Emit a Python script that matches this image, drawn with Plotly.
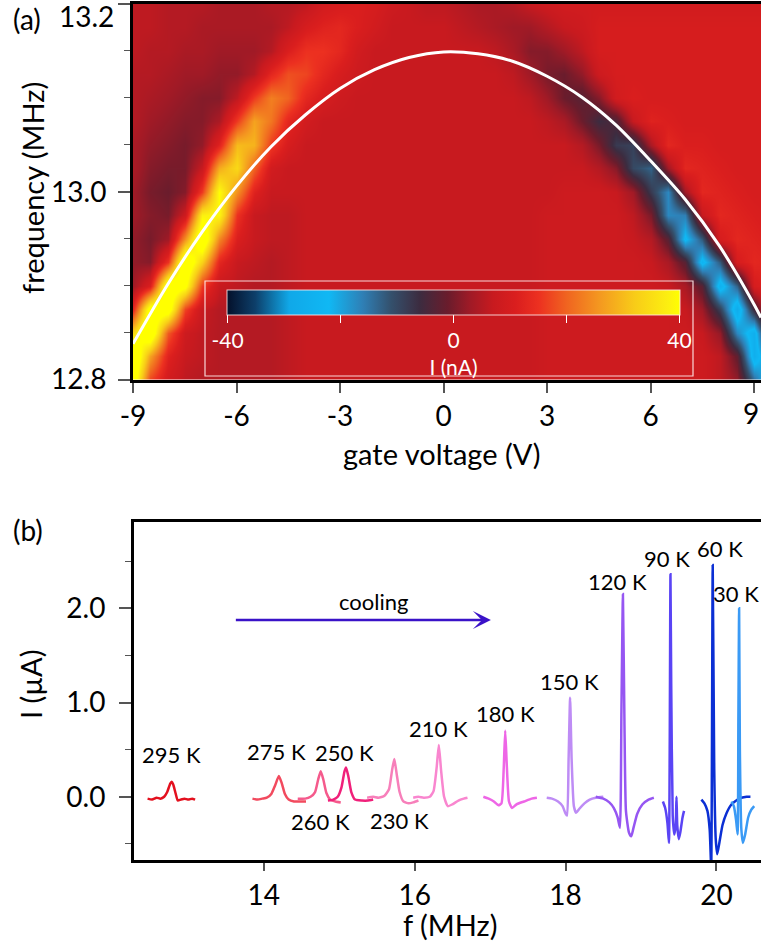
import plotly.graph_objects as go

W, H = 761, 952
FONT = "Lato"

# ---------------- panel (a): current map vs gate voltage and frequency ----------------
gate_v = [-9.0, -8.5, -8.0, -7.5, -7.0, -6.5, -6.0, -5.5, -5.0, -4.5,
          -4.0, -3.5, -3.0, -2.5, -2.0, -1.5, -1.0, -0.5, 0.0, 0.5,
          1.0, 1.5, 2.0, 2.5, 3.0, 3.5, 4.0, 4.5, 5.0, 5.5,
          6.0, 6.5, 7.0, 7.5, 8.0, 8.5, 9.0, 9.5]
freq_rows = [12.800, 12.825, 12.850, 12.875, 12.900, 12.925, 12.950, 12.975, 13.000,
             13.025, 13.050, 13.075, 13.100, 13.125, 13.150, 13.175, 13.200]

# measured current I (nA), one row per frequency, one column per gate voltage
# (values beyond +/-40 nA saturate the colour scale)
current_nA = [
    [46, 17, 9, 6, 5, 5, 5, 5, 5, 6,      7, 7, 7, 7, 7, 7, 7, 7, 7, 7,
     7, 7, 7, 7, 8, 8, 8, 8, 8, 8,        8, 8, 8, 8, 6, 2, -14, -26],
    [50, 27, 12, 7, 6, 5, 5, 5, 5, 6,     7, 7, 7, 7, 7, 7, 7, 7, 7, 7,
     7, 7, 7, 7, 8, 8, 8, 8, 8, 8,        8, 8, 8, 8, 6, -2, -26, -14],
    [34, 48, 19, 8, 6, 5, 5, 5, 5, 6,     7, 7, 7, 7, 7, 7, 7, 7, 7, 7,
     7, 7, 7, 7, 8, 8, 8, 8, 8, 8,        8, 8, 8, 7, 2, -17, -26, 4],
    [13, 44, 45, 17, 7, 5, 5, 5, 5, 6,    7, 7, 7, 7, 7, 7, 7, 7, 7, 7,
     7, 7, 7, 7, 8, 8, 8, 8, 8, 8,        8, 8, 7, 3, -9, -27, -5, 11],
    [3, 11, 46, 42, 16, 7, 6, 5, 5, 6,    7, 7, 7, 7, 7, 7, 7, 7, 7, 7,
     7, 7, 7, 7, 8, 8, 8, 8, 8, 8,        8, 7, 4, -3, -25, -13, 10, 13],
    [2, 1, 15, 48, 33, 13, 7, 6, 5, 6,    7, 7, 7, 7, 7, 7, 7, 7, 7, 7,
     7, 7, 7, 7, 8, 8, 8, 8, 8, 8,        7, 4, -3, -24, -12, 10, 13, 12],
    [2, 0, 3, 25, 48, 24, 11, 7, 6, 6,    7, 7, 7, 7, 7, 7, 7, 7, 7, 7,
     7, 7, 7, 7, 8, 8, 8, 8, 8, 7,        5, -3, -23, -12, 10, 13, 12, 11],
    [3, 1, 0, 8, 38, 39, 15, 7, 6, 6,     7, 7, 7, 7, 7, 7, 7, 7, 7, 7,
     7, 7, 7, 7, 8, 8, 8, 8, 8, 6,        0, -17, -16, 7, 13, 12, 11, 10],
    [3, 0, -1, 1, 16, 40, 25, 12, 7, 7,   7, 7, 7, 7, 7, 7, 7, 7, 7, 7,
     7, 7, 7, 7, 7, 8, 8, 8, 7, 3,        -8, -17, 3, 13, 12, 11, 10, 10],
    [4, 1, 0, 0, 7, 28, 34, 20, 9, 7,     7, 7, 7, 7, 7, 7, 7, 7, 7, 7,
     7, 7, 7, 7, 7, 7, 7, 5, 1, -10,      -13, 3, 13, 12, 11, 10, 10, 10],
    [4, 2, 1, 0, 2, 12, 30, 29, 16, 10,   7, 7, 7, 7, 7, 7, 7, 7, 7, 7,
     7, 7, 7, 7, 7, 7, 5, 0, -8, -9,      4, 13, 11, 11, 10, 10, 10, 10],
    [5, 3, 2, 1, 1, 4, 16, 27, 22, 13,    9, 7, 7, 7, 7, 7, 7, 7, 7, 7,
     7, 7, 7, 7, 6, 4, -1, -6, -4, 7,     12, 11, 10, 10, 10, 10, 10, 10],
    [5, 4, 3, 2, 1, 1, 6, 16, 23, 20,     13, 10, 8, 7, 7, 7, 7, 7, 7, 7,
     7, 7, 7, 6, 3, -1, -3, 1, 9, 11,     10, 10, 10, 10, 10, 10, 10, 10],
    [5, 5, 4, 3, 3, 2, 2, 5, 13, 18,      17, 13, 10, 8, 7, 7, 7, 7, 7, 7,
     7, 7, 6, 3, 0, -1, 2, 8, 10, 10,     10, 10, 10, 10, 10, 10, 10, 10],
    [6, 5, 5, 4, 4, 3, 3, 3, 5, 11,       15, 15, 13, 9, 7, 7, 7, 7, 7, 7,
     7, 6, 4, 1, 1, 3, 6, 10, 10, 10,     10, 10, 10, 10, 10, 10, 10, 10],
    [6, 6, 5, 5, 4, 4, 4, 4, 4, 6,        10, 12, 13, 11, 9, 7, 7, 7, 7, 6,
     5, 4, 3, 3, 5, 7, 8, 10, 10, 10,     10, 10, 10, 10, 10, 10, 10, 10],
    [6, 6, 5, 5, 5, 4, 4, 4, 5, 5,        6, 9, 10, 11, 10, 8, 7, 6, 6, 5,
     4, 4, 5, 7, 8, 9, 9, 9, 9, 9,        9, 9, 9, 9, 9, 9, 9, 9],
]
for row in current_nA:
    if len(row) != len(gate_v):
        raise ValueError("row length mismatch")

# fitted resonance frequency (white curve)
fit_v = [-9.0, -8.0, -7.0, -6.0, -5.0, -4.0, -3.0, -2.0, -1.0, 0.0,
         1.0, 2.0, 3.0, 4.0, 5.0, 6.0, 7.0, 8.0, 9.0, 9.2]
fit_f = [12.838, 12.901, 12.957, 13.006, 13.048, 13.082, 13.110, 13.130, 13.143, 13.149,
         13.147, 13.139, 13.123, 13.101, 13.071, 13.033, 12.992, 12.942, 12.880, 12.866]

gate_ticks = [-9, -6, -3, 0, 3, 6, 9]
gate_tick_text = ["-9", "-6", "-3", "0", "3", "6", ""]
freq_ticks = [12.8, 13.0, 13.2]
freq_tick_text = ["12.8", "13.0", ""]

cbar_ticks = [-39.9, -20, 0, 20, 39.9]
cbar_text = ["-40", "", "0", "", "40"]

map_colors = [
    [0.000, "#04102a"], [0.0625, "#0d3f6a"], [0.1375, "#10a8e8"], [0.225, "#10b8f4"],
    [0.300, "#2f7fb5"], [0.3625, "#34506c"], [0.425, "#3c2c40"], [0.4875, "#6a1c2c"],
    [0.5375, "#a01a26"], [0.5875, "#c81a1f"], [0.6375, "#da1e1e"], [0.6875, "#ec3020"],
    [0.750, "#f06420"], [0.825, "#f49a20"], [0.900, "#f8cc18"], [0.975, "#fcf010"],
    [1.000, "#ffff00"],
]

# ---------------- panel (b): spectra while cooling ----------------
f_295 = [12.46, 12.52, 12.58, 12.63, 12.68, 12.72, 12.76, 12.78, 12.80, 12.83, 12.86, 12.90, 12.95, 13.00, 13.05, 13.09]
i_295 = [-0.02, -0.03, -0.01, -0.02, 0.00, 0.05, 0.14, 0.16, 0.13, 0.04, -0.04, -0.03, -0.02, -0.03, -0.02, -0.03]

f_275 = [13.85, 13.92, 13.98, 14.04, 14.10, 14.15, 14.20, 14.24, 14.28, 14.33, 14.40, 14.48, 14.56]
i_275 = [-0.02, -0.03, -0.02, -0.01, 0.03, 0.12, 0.22, 0.14, 0.03, -0.03, -0.05, -0.05, -0.05]

f_260 = [14.45, 14.55, 14.62, 14.68, 14.72, 14.755, 14.79, 14.83, 14.88, 14.95, 15.02]
i_260 = [-0.02, -0.02, 0.00, 0.05, 0.18, 0.27, 0.18, 0.04, -0.03, -0.05, -0.06]

f_250 = [14.85, 14.92, 14.98, 15.03, 15.07, 15.09, 15.12, 15.16, 15.21, 15.30, 15.38, 15.45]
i_250 = [-0.04, -0.03, 0.00, 0.10, 0.27, 0.31, 0.22, 0.05, -0.03, -0.04, -0.04, -0.03]

f_230 = [15.37, 15.45, 15.52, 15.60, 15.66, 15.70, 15.73, 15.76, 15.80, 15.85, 15.92, 15.98, 16.05]
i_230 = [-0.01, 0.00, -0.01, 0.01, 0.08, 0.28, 0.40, 0.25, 0.05, -0.05, -0.07, -0.06, -0.04]

f_210 = [15.98, 16.05, 16.12, 16.20, 16.25, 16.29, 16.32, 16.35, 16.39, 16.44, 16.50, 16.58, 16.65, 16.70]
i_210 = [-0.01, 0.00, -0.01, 0.00, 0.06, 0.30, 0.55, 0.28, 0.00, -0.10, -0.08, -0.04, -0.02, -0.01]

f_180 = [16.91, 16.98, 17.05, 17.11, 17.15, 17.18, 17.20, 17.22, 17.25, 17.29, 17.35, 17.45, 17.55, 17.62]
i_180 = [0.00, -0.02, -0.05, -0.09, -0.07, 0.30, 0.70, 0.35, -0.05, -0.12, -0.08, -0.05, -0.02, -0.01]

f_150 = [17.75, 17.82, 17.90, 17.96, 18.00, 18.02, 18.04, 18.06, 18.08, 18.11, 18.14, 18.18, 18.25, 18.32, 18.40, 18.50]
i_150 = [-0.01, -0.02, -0.05, -0.10, -0.18, -0.20, 0.40, 1.05, 0.40, -0.10, -0.17, -0.13, -0.07, -0.03, -0.01, 0.00]

f_120 = [18.40, 18.50, 18.58, 18.64, 18.69, 18.72, 18.74, 18.76, 18.78, 18.80, 18.84, 18.87, 18.90, 18.95, 19.02, 19.10, 19.17]
i_120 = [0.00, -0.02, -0.06, -0.12, -0.22, -0.33, 0.90, 2.15, 0.80, -0.15, -0.38, -0.42, -0.33, -0.18, -0.08, -0.03, -0.01]

f_90 = [19.29, 19.32, 19.35, 19.37, 19.38, 19.39, 19.40, 19.42, 19.44, 19.46, 19.47, 19.48, 19.50, 19.52, 19.55, 19.57]
i_90 = [-0.05, -0.12, -0.28, -0.49, 0.50, 2.36, 1.20, -0.20, -0.40, -0.30, 0.00, -0.30, -0.45, -0.38, -0.22, -0.15]

f_60 = [19.80, 19.84, 19.88, 19.91, 19.93, 19.95, 19.97, 19.99, 20.01, 20.04, 20.08, 20.13, 20.20, 20.30, 20.40, 20.45]
i_60 = [-0.03, -0.07, -0.15, -0.35, -0.75, 2.46, 0.30, -0.45, -0.61, -0.48, -0.30, -0.18, -0.08, -0.02, 0.00, 0.00]

f_30 = [20.20, 20.23, 20.26, 20.28, 20.29, 20.30, 20.31, 20.33, 20.35, 20.38, 20.42, 20.46, 20.50]
i_30 = [-0.05, -0.10, -0.25, -0.40, 0.80, 2.00, 0.50, -0.35, -0.49, -0.40, -0.22, -0.14, -0.10]

spectra = [
    ("295 K", f_295, i_295, "#e3101e"),
    ("275 K", f_275, i_275, "#f24a5e"),
    ("260 K", f_260, i_260, "#f55a8c"),
    ("250 K", f_250, i_250, "#f0207a"),
    ("230 K", f_230, i_230, "#f77fba"),
    ("210 K", f_210, i_210, "#f986cf"),
    ("180 K", f_180, i_180, "#ee66e6"),
    ("150 K", f_150, i_150, "#be8cf5"),
    ("120 K", f_120, i_120, "#9656f2"),
    ("90 K", f_90, i_90, "#5a44f5"),
    ("60 K", f_60, i_60, "#0b2fd4"),
    ("30 K", f_30, i_30, "#3a9af5"),
]

# temperature label positions (f, I)
label_text = ["295 K", "275 K", "250 K", "260 K", "230 K", "210 K", "180 K", "150 K", "120 K", "90 K", "60 K"]
label_f = [12.78, 14.17, 15.07, 14.75, 15.80, 16.32, 17.20, 18.05, 18.69, 19.35, 20.05]
label_i = [0.45, 0.48, 0.47, -0.265, -0.25, 0.725, 0.885, 1.22, 2.28, 2.53, 2.63]


def px(x):
    return x / W


def py(y):
    return 1 - y / H


fig = go.Figure()

fig.add_trace(go.Heatmap(
    x=gate_v, y=freq_rows, z=current_nA, zsmooth="best",
    zmin=-40, zmax=40, colorscale=map_colors, xaxis="x", yaxis="y",
    colorbar=dict(
        orientation="h", xref="paper", yref="paper",
        x=px(217), xanchor="left", y=py(290), yanchor="top",
        len=473, lenmode="pixels", thickness=25, thicknessmode="pixels",
        xpad=10, ypad=0, borderwidth=0,
        bgcolor="rgba(0,0,0,0)",
        outlinecolor="rgba(255,235,235,0.85)", outlinewidth=1,
        tickmode="array", tickvals=cbar_ticks, ticktext=cbar_text,
        ticks="outside", ticklen=8, tickcolor="white", tickwidth=1,
        tickfont=dict(family=FONT, size=21, color="white"),
        title=dict(text="I (nA)", side="bottom", font=dict(family=FONT, size=21, color="white")),
    ),
))

fig.add_trace(go.Scatter(
    x=fit_v, y=fit_f, mode="lines", xaxis="x", yaxis="y",
    line=dict(color="white", width=3, shape="spline", smoothing=0.8),
    showlegend=False, hoverinfo="skip",
))

for name, fx, iy, col in spectra:
    fig.add_trace(go.Scatter(
        x=fx, y=iy, mode="lines", name=name, xaxis="x2", yaxis="y2",
        line=dict(color=col, width=2.5, shape="spline", smoothing=0.5),
        showlegend=False,
    ))

tick_font = dict(family=FONT, size=28, color="black")
axis_common = dict(showgrid=False, zeroline=False, showline=True, linecolor="black",
                   ticks="outside", tickcolor="#555", tickwidth=1.5, tickfont=tick_font,
                   automargin=False)


def paper_text(text, x, y, size=28, angle=0, anchor="center"):
    return dict(text=text, x=px(x), y=py(y), xref="paper", yref="paper", showarrow=False,
                xanchor=anchor, yanchor="middle", textangle=angle,
                font=dict(family=FONT, size=size, color="black"))


annotations = [
    paper_text("(a)", 27, 19),
    paper_text("(b)", 28, 530),
    paper_text("13.2", 116, 16, anchor="right"),
    paper_text("9", 761, 413, anchor="right"),
    paper_text("frequency (MHz)", 33, 188, size=29, angle=-90),
    paper_text("gate voltage (V)", 441, 453, size=29),
    paper_text("I (µA)", 30, 684, size=29, angle=-90),
    paper_text("f (MHz)", 450, 924, size=29),
    dict(text="cooling", x=15.46, y=2.07, xref="x2", yref="y2", showarrow=False,
         font=dict(family=FONT, size=22, color="black")),
    dict(text="", x=17.01, y=1.874, ax=13.61, ay=1.874, xref="x2", yref="y2",
         axref="x2", ayref="y2", showarrow=True, arrowhead=3, arrowsize=1.2,
         arrowwidth=2.5, arrowcolor="#3a12c8"),
    dict(text="30 K", x=20.585, y=2.16, xref="x2", yref="y2", showarrow=False,
         xanchor="right", font=dict(family=FONT, size=22, color="black")),
]
for t, lf, li in zip(label_text, label_f, label_i):
    annotations.append(dict(text=t, x=lf, y=li, xref="x2", yref="y2", showarrow=False,
                            font=dict(family=FONT, size=22, color="black")))

# white frame around the colour bar
shapes = [dict(type="rect", xref="paper", yref="paper",
               x0=px(205), x1=px(693), y0=py(376), y1=py(281),
               line=dict(color="rgba(255,235,235,0.9)", width=1.2))]

fig.update_layout(
    width=W, height=H, margin=dict(l=0, r=0, t=0, b=0),
    paper_bgcolor="white", plot_bgcolor="white", showlegend=False,
    xaxis=dict(domain=[px(133), 1.0], range=[-9, 9.2], anchor="y",
               tickmode="array", tickvals=gate_ticks, ticktext=gate_tick_text, ticklen=10,
               ticklabelstandoff=0, linewidth=3, mirror=True, **axis_common),
    yaxis=dict(domain=[py(379.5), py(4)], range=[12.8, 13.2], anchor="x",
               tickmode="array", tickvals=freq_ticks, ticktext=freq_tick_text,
               ticklen=12, ticklabelstandoff=6, linewidth=3,
               minor=dict(tickvals=[12.85, 12.9, 12.95, 13.05, 13.1, 13.15], ticks="outside",
                          ticklen=6, tickcolor="#555", tickwidth=1),
               **axis_common),
    xaxis2=dict(domain=[px(134), 1.0], range=[12.28, 20.59], anchor="y2",
                tickmode="array", tickvals=[14, 16, 18, 20], ticklen=8,
                ticklabelstandoff=0, linewidth=3, mirror=True, **axis_common),
    yaxis2=dict(domain=[py(860), py(522)], range=[-0.671, 2.915], anchor="x2",
                tickmode="array", tickvals=[0, 1, 2], ticktext=["0.0", "1.0", "2.0"],
                ticklen=12, ticklabelstandoff=8, linewidth=3,
                minor=dict(tickvals=[-0.5, 0.5, 1.5, 2.5], ticks="outside",
                           ticklen=6, tickcolor="#555", tickwidth=1),
                **axis_common),
    annotations=annotations,
    shapes=shapes,
)

fig.write_html("out.html")
